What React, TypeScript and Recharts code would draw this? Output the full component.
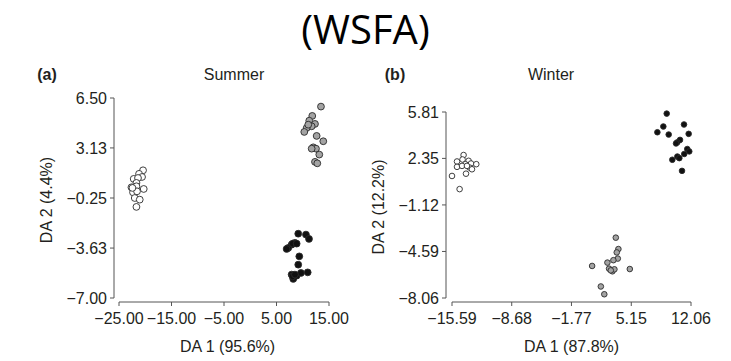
import React from 'react';
import { ScatterChart, Scatter, XAxis, YAxis } from 'recharts';

// ---------- data ----------
// Panel (a) Summer
const summerWhite = [
  { x: -20.42, y: 1.62 }, { x: -21.18, y: 1.38 }, { x: -22.2, y: 1.04 }, { x: -20.61, y: 1.17 },
  { x: -21.38, y: 1.1 }, { x: -21.68, y: 0.77 }, { x: -22.63, y: 0.47 }, { x: -21.68, y: 0.54 },
  { x: -20.29, y: 0.36 }, { x: -22.33, y: 0.13 }, { x: -21.57, y: 0.2 }, { x: -22.0, y: -0.25 },
  { x: -21.05, y: -0.36 }, { x: -21.68, y: -0.85 }, { x: -22.44, y: 0.43 },
];
const summerGray = [
  { x: 13.47, y: 5.92 }, { x: 11.81, y: 5.29 }, { x: 11.24, y: 4.97 }, { x: 12.33, y: 4.75 },
  { x: 11.7, y: 4.59 }, { x: 10.75, y: 4.48 }, { x: 10.29, y: 4.21 }, { x: 12.65, y: 3.94 },
  { x: 13.91, y: 3.58 }, { x: 12.0, y: 3.17 }, { x: 12.52, y: 3.08 }, { x: 11.7, y: 3.08 },
  { x: 13.15, y: 2.68 }, { x: 12.33, y: 2.19 }, { x: 12.77, y: 2.09 }, { x: 11.05, y: 4.7 },
];
const summerBlack = [
  { x: 9.14, y: -2.66 }, { x: 10.61, y: -2.72 }, { x: 11.19, y: -3.01 }, { x: 8.51, y: -3.28 },
  { x: 7.88, y: -3.4 }, { x: 7.24, y: -3.62 }, { x: 6.93, y: -3.69 }, { x: 8.08, y: -3.33 },
  { x: 8.84, y: -3.33 }, { x: 9.34, y: -4.19 }, { x: 9.14, y: -4.75 }, { x: 7.88, y: -5.42 },
  { x: 8.19, y: -5.71 }, { x: 8.08, y: -5.54 }, { x: 8.84, y: -5.49 }, { x: 9.66, y: -5.31 },
  { x: 10.94, y: -5.27 }, { x: 8.51, y: -5.42 },
];

// Panel (b) Winter
const winterWhite = [
  { x: -14.25, y: 2.6 }, { x: -15.01, y: 2.12 }, { x: -14.37, y: 2.27 }, { x: -13.67, y: 2.17 },
  { x: -14.05, y: 1.92 }, { x: -15.01, y: 1.72 }, { x: -14.43, y: 1.79 }, { x: -13.39, y: 1.97 },
  { x: -12.78, y: 1.92 }, { x: -13.56, y: 1.67 }, { x: -13.28, y: 1.54 }, { x: -13.97, y: 1.21 },
  { x: -15.59, y: 1.04 }, { x: -14.71, y: 0.06 }, { x: -13.86, y: 1.79 },
];
const winterBlack = [
  { x: 9.25, y: 5.69 }, { x: 8.86, y: 4.73 }, { x: 8.17, y: 4.3 }, { x: 9.48, y: 4.13 },
  { x: 11.25, y: 4.88 }, { x: 11.79, y: 4.18 }, { x: 10.79, y: 3.73 }, { x: 10.48, y: 3.55 },
  { x: 10.33, y: 3.47 }, { x: 11.63, y: 3.05 }, { x: 11.86, y: 2.87 }, { x: 11.28, y: 2.68 },
  { x: 10.48, y: 2.49 }, { x: 10.71, y: 2.37 }, { x: 9.9, y: 2.25 }, { x: 11.02, y: 1.42 },
];
const winterGray = [
  { x: 3.36, y: -3.56 }, { x: 3.66, y: -4.41 }, { x: 3.47, y: -4.66 }, { x: 3.59, y: -5.12 },
  { x: 3.08, y: -5.24 }, { x: 2.39, y: -5.42 }, { x: 2.58, y: -5.87 }, { x: 2.97, y: -6.07 },
  { x: 3.2, y: -5.92 }, { x: 0.62, y: -5.67 }, { x: 4.98, y: -5.9 }, { x: 1.63, y: -7.2 },
  { x: 2.03, y: -7.78 }, { x: 2.78, y: -6.0 },
];

// ticks
const summerXTicks = [-25, -15, -5, 5, 15];
const summerXLabels = ['\u221225.00', '\u221215.00', '\u22125.00', '5.00', '15.00'];
const summerYTicks = [6.5, 3.13, -0.25, -3.63, -7];
const summerYLabels = ['6.50', '3.13', '\u22120.25', '\u22123.63', '\u22127.00'];
const winterXTicks = [-15.59, -8.68, -1.77, 5.15, 12.06];
const winterXLabels = ['\u221215.59', '\u22128.68', '\u22121.77', '5.15', '12.06'];
const winterYTicks = [5.81, 2.35, -1.12, -4.59, -8.06];
const winterYLabels = ['5.81', '2.35', '\u22121.12', '\u22124.59', '\u22128.06'];

const mainTitle = '(WSFA)';
const panelTags = ['(a)', '(b)'];
const panelTitles = ['Summer', 'Winter'];
const xAxisTitles = ['DA 1 (95.6%)', 'DA 1 (87.8%)'];
const yAxisTitles = ['DA 2 (4.4%)', 'DA 2 (12.2%)'];

// ---------- styles ----------
const FONT = "'Liberation Sans', Arial, Helvetica, sans-serif";
const TEXT = '#231f20';
const AXIS = '#555';
const FS = 16;
const tickStyle = { fontSize: FS, fill: TEXT, fontFamily: FONT };

const dot = (r: number, fill: string) => (p: any) => (
  <circle cx={p.cx} cy={p.cy} r={r} fill={fill} stroke="#2a2a2a" strokeWidth={0.9} />
);

const fmt = (ticks: number[], labels: string[]) => (v: number) => {
  const i = ticks.findIndex((t) => Math.abs(t - v) < 1e-6);
  return i >= 0 ? labels[i] : String(v);
};

export default function App() {
  return (
    <div style={{ position: 'relative', width: 731, height: 361, background: '#fff', overflow: 'hidden' }}>
      <style>{`body{margin:0;}`}</style>

      {/* Panel (a) */}
      <div style={{ position: 'absolute', left: 0, top: 0 }}>
        <ScatterChart width={360} height={361} margin={{ top: 98, right: 31, bottom: 0, left: 0 }}>
          <XAxis
            type="number"
            dataKey="x"
            domain={[-25, 15]}
            ticks={summerXTicks}
            interval={0}
            tickFormatter={fmt(summerXTicks, summerXLabels)}
            padding={{ left: 5, right: 0 }}
            height={59}
            tick={tickStyle}
            tickSize={4}
            tickMargin={7}
            stroke={AXIS}
            axisLine={{ stroke: AXIS, strokeDasharray: '0 5 210 100' }}
            tickLine={{ stroke: AXIS }}
            label={{ value: xAxisTitles[0], position: 'insideBottom', offset: 9, fill: TEXT, fontSize: FS, fontFamily: FONT, dx: 6 }}
          />
          <YAxis
            type="number"
            dataKey="y"
            domain={[-7, 6.5]}
            ticks={summerYTicks}
            interval={0}
            tickFormatter={fmt(summerYTicks, summerYLabels)}
            padding={{ top: 0, bottom: 4 }}
            width={114}
            tick={tickStyle}
            tickSize={4}
            tickMargin={3}
            stroke={AXIS}
            axisLine={{ stroke: AXIS, strokeDasharray: '200 100' }}
            tickLine={{ stroke: AXIS }}
            label={{ value: yAxisTitles[0], angle: -90, position: 'insideLeft', offset: 46, fill: TEXT, fontSize: FS, fontFamily: FONT, style: { textAnchor: 'middle' } }}
          />
          <Scatter data={summerWhite} isAnimationActive={false} shape={dot(3.4, '#ffffff')} />
          <Scatter data={summerGray} isAnimationActive={false} shape={dot(3.4, '#a3a3a3')} />
          <Scatter data={summerBlack} isAnimationActive={false} shape={dot(3.4, '#111111')} />
        </ScatterChart>
      </div>

      {/* Panel (b) */}
      <div style={{ position: 'absolute', left: 360, top: 0 }}>
        <ScatterChart width={371} height={361} margin={{ top: 112, right: 40, bottom: 0, left: 0 }}>
          <XAxis
            type="number"
            dataKey="x"
            domain={[-15.59, 12.06]}
            ticks={winterXTicks}
            interval={0}
            tickFormatter={fmt(winterXTicks, winterXLabels)}
            padding={{ left: 6, right: 0 }}
            height={59}
            tick={tickStyle}
            tickSize={4}
            tickMargin={7}
            stroke={AXIS}
            axisLine={{ stroke: AXIS, strokeDasharray: '0 6 239 100' }}
            tickLine={{ stroke: AXIS }}
            label={{ value: xAxisTitles[1], position: 'insideBottom', offset: 9, fill: TEXT, fontSize: FS, fontFamily: FONT, dx: 3 }}
          />
          <YAxis
            type="number"
            dataKey="y"
            domain={[-8.06, 5.81]}
            ticks={winterYTicks}
            interval={0}
            tickFormatter={fmt(winterYTicks, winterYLabels)}
            padding={{ top: 0, bottom: 4 }}
            width={86}
            tick={tickStyle}
            tickSize={4}
            tickMargin={3}
            stroke={AXIS}
            axisLine={{ stroke: AXIS, strokeDasharray: '186 100' }}
            tickLine={{ stroke: AXIS }}
            label={{ value: yAxisTitles[1], angle: -90, position: 'insideLeft', offset: 18, fill: TEXT, fontSize: FS, fontFamily: FONT, style: { textAnchor: 'middle' } }}
          />
          <Scatter data={winterWhite} isAnimationActive={false} shape={dot(2.8, '#ffffff')} />
          <Scatter data={winterBlack} isAnimationActive={false} shape={dot(2.8, '#111111')} />
          <Scatter data={winterGray} isAnimationActive={false} shape={dot(2.8, '#a3a3a3')} />
        </ScatterChart>
      </div>

      {/* Titles */}
      <svg width={731} height={361} style={{ position: 'absolute', left: 0, top: 0, pointerEvents: 'none' }}>
        <text x={365.5} y={28} textAnchor="middle" dominantBaseline="central" fontFamily="'Open Sans', 'Noto Sans', sans-serif" fontSize={40} fill="#000">
          {mainTitle}
        </text>
        <text x={47} y={74} textAnchor="middle" dominantBaseline="central" fontFamily={FONT} fontSize={FS} fontWeight="bold" fill={TEXT}>
          {panelTags[0]}
        </text>
        <text x={234} y={74} textAnchor="middle" dominantBaseline="central" fontFamily={FONT} fontSize={FS} fill={TEXT}>
          {panelTitles[0]}
        </text>
        <text x={395} y={74} textAnchor="middle" dominantBaseline="central" fontFamily={FONT} fontSize={FS} fontWeight="bold" fill={TEXT}>
          {panelTags[1]}
        </text>
        <text x={551} y={74} textAnchor="middle" dominantBaseline="central" fontFamily={FONT} fontSize={FS} fill={TEXT}>
          {panelTitles[1]}
        </text>
      </svg>
    </div>
  );
}
